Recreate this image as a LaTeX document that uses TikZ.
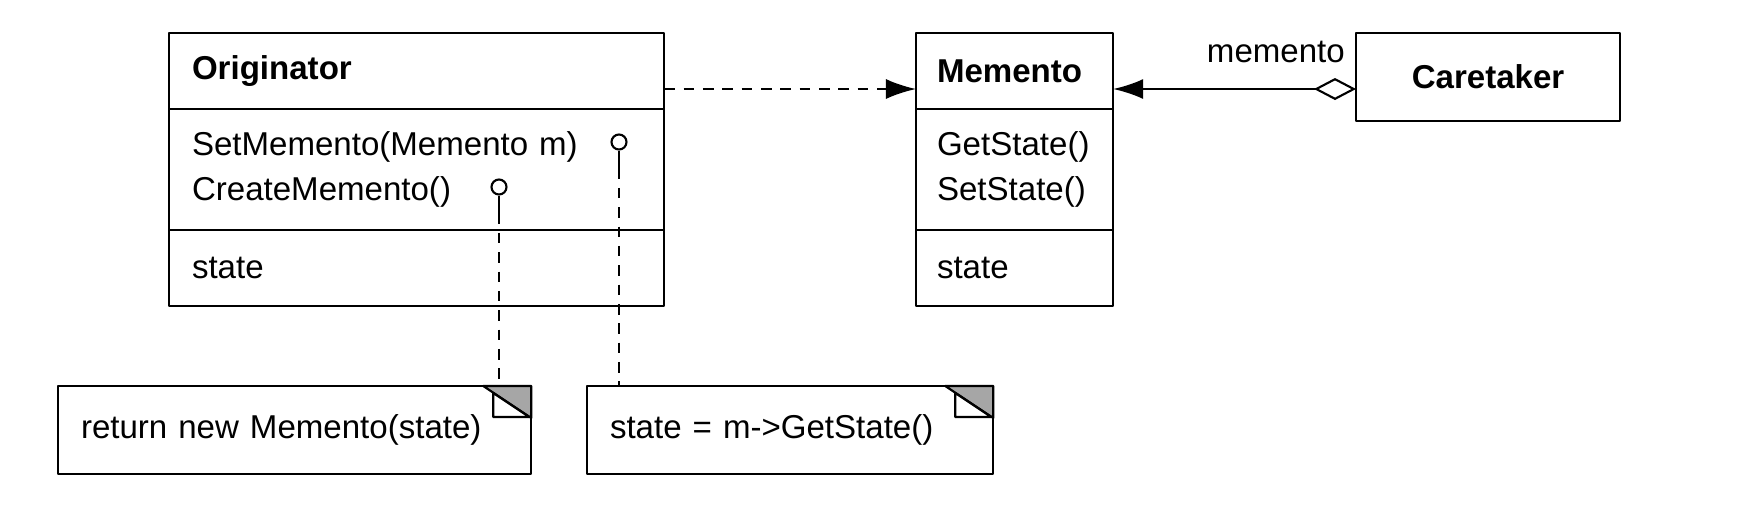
\documentclass[tikz,border=0pt]{standalone}
\usepackage{fontspec}
\setmainfont{Liberation Sans}
\usetikzlibrary{arrows.meta}
\begin{document}
\begin{tikzpicture}[x=0.01cm, y=-0.01cm, font=\fontsize{9.4}{12.8}\selectfont, line join=round, line width=0.6pt,
  cell/.style={draw, anchor=north west, outer sep=0pt, inner xsep=0.23cm, inner ysep=0pt, align=left},
  note/.style={draw, anchor=north west, outer sep=0pt, inner xsep=0.23cm, inner ysep=0pt, align=left, minimum height=0.88cm},
  lolli/.style={circle, draw, fill=white, inner sep=0pt, minimum size=0.15cm},
  dep/.style={dash pattern=on 3pt off 2.5pt}]
\useasboundingbox (0,0) rectangle (1746,508);
\coordinate (lnk) at (0,89);
\node[cell, text width=4.49cm, minimum height=0.76cm] (origT) at (169,33) {\textbf{Originator}};
\node[cell, text width=4.49cm, minimum height=1.21cm] (origM) at (origT.south west) {SetMemento(Memento m)\\CreateMemento()};
\node[cell, text width=4.49cm, minimum height=0.76cm] (origA) at (origM.south west) {state};
\node[cell, inner xsep=0.21cm, text width=1.55cm, minimum height=0.76cm] (memT) at (916,33) {\textbf{Memento}};
\node[cell, inner xsep=0.21cm, text width=1.55cm, minimum height=1.21cm] (memM) at (memT.south west) {GetState()\\SetState()};
\node[cell, inner xsep=0.21cm, text width=1.55cm, minimum height=0.76cm] (memA) at (memM.south west) {state};
\node[draw, anchor=north west, outer sep=0pt, minimum width=2.64cm, minimum height=0.88cm] (care) at (1356,33) {\textbf{Caretaker}};
\node[note, text width=4.27cm] (note1) at (58,386) {return new Memento(state)};
\node[note, text width=3.60cm] (note2) at (587,386) {state = m->GetState()};
\foreach \n in {note1,note2}{
  \filldraw[fill=gray!70] ([shift={(-48,0)}]\n.north east) -- (\n.north east) -- ([shift={(0,32)}]\n.north east) -- cycle;
  \draw[fill=white] ([shift={(-38,7)}]\n.north east) -- ([shift={(-38,31)}]\n.north east) -- ([shift={(-2,31)}]\n.north east) -- cycle;
}
\node[lolli] (sm) at (619,142) {};
\node[lolli] (cm) at (499,187) {};
\foreach \l/\n in {sm/note2, cm/note1}{
  \draw (\l.south) -- ++(0,18) coordinate (\l-s);
  \draw[dep] (\l-s) -- (\l-s |- \n.north);
}
\draw[dep, -{Latex[length=0.3cm, width=0.2cm]}] (origT.east |- lnk) -- (memT.west |- lnk);
\draw[{Latex[length=0.3cm, width=0.2cm]}-{Diamond[open, length=0.42cm, width=0.22cm]}] (memT.east |- lnk) -- node[pos=0.67, above=0.13cm] (role) {memento} (care.west |- lnk);
\end{tikzpicture}
\end{document}
